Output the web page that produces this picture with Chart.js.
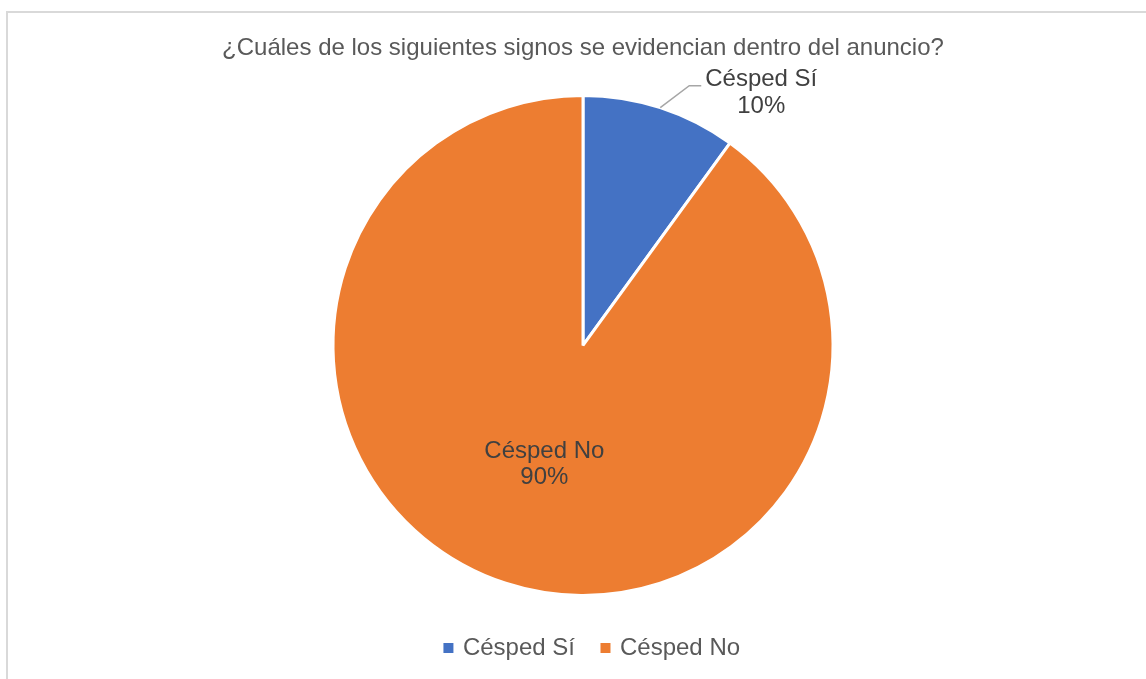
<!DOCTYPE html>
<html lang="es">
<head>
<meta charset="utf-8">
<title>Signos en el anuncio</title>
<style>
  html, body { margin: 0; padding: 0; background: #fff; }
  #frame {
    position: absolute; left: 6px; top: 11px;
    width: 1200px; height: 720px;
    border: 2px solid #d9d9d9;
  }
  #wrapper { position: absolute; left: 0; top: 0; width: 1146px; height: 679px; }
</style>
</head>
<body>
<div id="frame"></div>
<div id="wrapper"><canvas id="canvas" width="1146" height="679"></canvas></div>
<script src="https://cdn.jsdelivr.net/npm/chart.js"></script>
<script>
  const titleText = '¿Cuáles de los siguientes signos se evidencian dentro del anuncio?';
  const labels = ['Césped Sí', 'Césped No'];
  const values = [10, 90];
  const colors = ['#4472C4', '#ED7D31'];

  const FONT = 'Arial, "Liberation Sans", sans-serif';

  // percentage labels: first slice outside with a leader line, the rest inside
  const sliceLabels = {
    id: 'sliceLabels',
    afterDatasetsDraw(chart) {
      const ctx = chart.ctx;
      const meta = chart.getDatasetMeta(0);
      const total = values.reduce((a, b) => a + b, 0);
      ctx.save();
      ctx.font = '24px ' + FONT;
      ctx.fillStyle = '#404040';
      ctx.textBaseline = 'middle';
      ctx.textAlign = 'center';
      meta.data.forEach((arc, i) => {
        const p = arc.getProps(['x', 'y', 'startAngle', 'endAngle', 'outerRadius']);
        const mid = (p.startAngle + p.endAngle) / 2;
        const pct = Math.round(values[i] / total * 100) + '%';
        if (i === 0) {
          const x0 = p.x + Math.cos(mid) * p.outerRadius;
          const y0 = p.y + Math.sin(mid) * p.outerRadius;
          const x1 = x0 + 29, y1 = y0 - 22;
          const x2 = x1 + 12;
          ctx.strokeStyle = '#a6a6a6';
          ctx.lineWidth = 1.5;
          ctx.beginPath();
          ctx.moveTo(x0, y0);
          ctx.lineTo(x1, y1);
          ctx.lineTo(x2, y1);
          ctx.stroke();
          const cx = x2 + 60;
          ctx.fillText(labels[i], cx, y1 - 6);
          ctx.fillText(pct, cx, y1 + 21);
        } else {
          const r = p.outerRadius * 0.5;
          const cx = p.x + Math.cos(mid) * r;
          const cy = p.y + Math.sin(mid) * r;
          ctx.fillText(labels[i], cx, cy - 13);
          ctx.fillText(pct, cx, cy + 13);
        }
      });
      ctx.restore();
    }
  };

  // nudge the legend a little to the right of the pie's centre line
  const legendShift = {
    id: 'legendShift',
    afterLayout(chart) {
      if (chart.legend) {
        chart.legend.left += 10;
        chart.legend.right += 10;
      }
    }
  };

  new Chart(document.getElementById('canvas'), {
    type: 'pie',
    data: {
      labels: labels,
      datasets: [{
        data: values,
        backgroundColor: colors,
        borderColor: '#ffffff',
        borderWidth: 3,
        hoverOffset: 0
      }]
    },
    options: {
      responsive: false,
      animation: false,
      radius: 250,
      layout: { padding: { top: 30, bottom: 9, left: 20, right: 0 } },
      plugins: {
        title: {
          display: true,
          text: titleText,
          color: '#595959',
          font: { family: FONT, size: 24, weight: 'normal' },
          padding: { top: 4, bottom: 20 }
        },
        legend: {
          position: 'bottom',
          labels: {
            color: '#595959',
            font: { family: FONT, size: 24 },
            usePointStyle: true,
            pointStyle: 'rect',
            boxWidth: 5,
            boxHeight: 13,
            padding: 28
          }
        },
        tooltip: { enabled: false }
      }
    },
    plugins: [sliceLabels, legendShift]
  });
</script>
</body>
</html>
